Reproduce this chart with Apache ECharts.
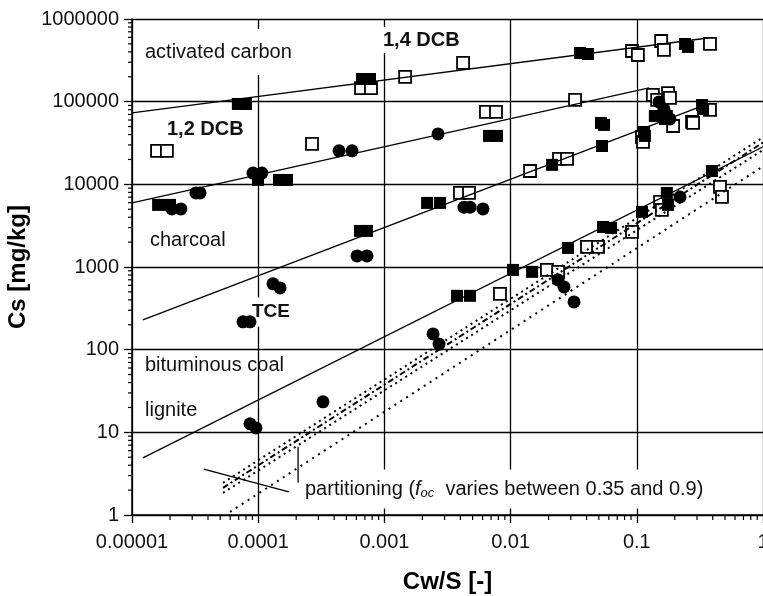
<!DOCTYPE html>
<html>
<head>
<meta charset="utf-8">
<script src="https://cdn.jsdelivr.net/npm/echarts/dist/echarts.min.js"></script>
<style>
  html, body { margin: 0; padding: 0; background: #fff; }
  #chart { width: 763px; height: 596px; }
</style>
</head>
<body>
<div id="chart"></div>
<script>
// tick labels
const xTickLabels = ['0.00001', '0.0001', '0.001', '0.01', '0.1', '1'];
const yTickLabels = ['1', '10', '100', '1000', '10000', '100000', '1000000'];
const minorSteps = [2, 3, 4, 5, 6, 7, 8, 9];

// measured points [Cw/S, Cs]
const filledSquares = [
  [6.9e-5, 93800], [8.0e-5, 93800],
  [6.65e-4, 188000], [7.69e-4, 188000],
  [6.41e-4, 2730], [7.28e-4, 2730],
  [9.96e-5, 11300],
  [1.46e-4, 11300], [1.69e-4, 11300],
  [1.61e-5, 5640], [2.0e-5, 5640],
  [2.18e-3, 5960], [2.76e-3, 5960],
  [6.74e-3, 38500], [7.8e-3, 38500],
  [0.0213, 17200],
  [0.0355, 388000], [0.041, 377000],
  [0.241, 499000], [0.255, 459000],
  [0.052, 55300], [0.055, 52300],
  [0.053, 29100],
  [0.139, 67100], [0.173, 67100], [0.167, 61800],
  [0.329, 91200], [0.335, 81600],
  [0.114, 43000], [0.116, 38500],
  [0.394, 14500],
  [0.173, 7870], [0.177, 5640],
  [0.110, 4640],
  [0.054, 3050], [0.0625, 2970],
  [0.0285, 1700],
  [0.01045, 922],
  [0.0148, 873],
  [3.76e-3, 448], [4.77e-3, 448]
];

const openSquares = [
  [1.58e-5, 25400], [1.89e-5, 25400],
  [6.53e-4, 146000], [7.83e-4, 146000],
  [2.67e-4, 30800],
  [1.46e-3, 199000],
  [4.2e-3, 294000],
  [6.38e-3, 75100], [7.66e-3, 75100],
  [0.01426, 14500],
  [0.0242, 20300], [0.028, 20300],
  [0.0324, 105000],
  [0.0916, 410000], [0.102, 367000],
  [0.156, 542000], [0.164, 422000],
  [0.380, 499000],
  [0.134, 121000], [0.145, 105000], [0.177, 127000], [0.183, 111000],
  [0.380, 79400],
  [0.194, 50800],
  [0.274, 56800], [0.279, 55300],
  [0.110, 37400], [0.112, 32600],
  [0.456, 9310], [0.473, 7050],
  [0.153, 6120], [0.158, 4900],
  [0.0916, 2660],
  [0.0403, 1750], [0.0493, 1750],
  [0.0194, 922], [0.0238, 873],
  [8.24e-3, 473],
  [3.97e-3, 7870], [4.68e-3, 7870]
];

const filledCircles = [
  [9.1e-5, 13700], [1.07e-4, 13700],
  [2.07e-5, 5040], [2.44e-5, 5040],
  [3.21e-5, 7870], [3.46e-5, 7870],
  [4.37e-4, 25400], [5.54e-4, 25400],
  [6.07e-4, 1360], [7.28e-4, 1360],
  [1.31e-4, 625], [1.49e-4, 558],
  [7.58e-5, 217], [8.61e-5, 217],
  [8.61e-5, 12.7], [9.6e-5, 11.3],
  [3.26e-4, 23.4],
  [2.66e-3, 40700],
  [4.27e-3, 5300], [4.77e-3, 5300], [6.04e-3, 5040],
  [0.150, 99200], [0.164, 81600], [0.183, 61800],
  [0.220, 7050],
  [0.0238, 698], [0.0265, 574],
  [0.0318, 378],
  [2.43e-3, 155], [2.71e-3, 117]
];

// fitted lines
const fitActivated14 = [[1e-5, 73000], [0.366, 589000]];
const fitActivated12 = [[1e-5, 5960], [0.125, 146600]];
const fitCharcoal = [[1.22e-5, 229], [0.347, 91200]];
const fitLignite = [[1.22e-5, 4.9], [1, 28500]];

// partitioning lines
const partHigh = [[5.26e-5, 2.45], [1, 37000]];
const partMid = [[5.26e-5, 2.13], [1, 32000]];
const partLowBundle = [[5.26e-5, 1.85], [1, 26000]];
const partLow = [[5.98e-5, 1.09], [1, 16500]];

// pointer strokes of the partitioning note
const pointerSlant = [[3.7e-5, 3.6], [1.75e-4, 1.9]];
const pointerBar = [[2.07e-4, 6.7], [2.07e-4, 2.45]];

const xMinor = [];
for (let d = -5; d < 0; d++) minorSteps.forEach(k => xMinor.push([k * Math.pow(10, d), 1]));
const yMinor = [];
for (let d = 0; d < 6; d++) minorSteps.forEach(k => yMinor.push([1e-5, k * Math.pow(10, d)]));

const font = "'Liberation Sans', Arial, sans-serif";

function fitLine(data, dash, width) {
  return {
    type: 'line', data: data, symbol: 'none', silent: true, z: 4,
    lineStyle: { color: '#000', width: width || 1.3, type: dash || 'solid' }
  };
}

const chart = echarts.init(document.getElementById('chart'));

const option = {
  animation: false,
  backgroundColor: '#fff',
  grid: { left: 132, top: 19, right: 0, bottom: 81, outerBoundsMode: 'none', containLabel: false },
  xAxis: {
    type: 'log', logBase: 10, min: 1e-5, max: 1,
    name: 'Cw/S [-]', nameLocation: 'middle', nameGap: 55,
    nameTextStyle: { fontFamily: font, fontSize: 24, fontWeight: 'bold', color: '#000' },
    axisLine: { lineStyle: { color: '#000', width: 1.5 } },
    axisTick: { length: 8, lineStyle: { color: '#000', width: 1.3 } },
    axisLabel: {
      fontFamily: font, fontSize: 20, color: '#111', margin: 17,
      formatter: v => xTickLabels[Math.round(Math.log10(v)) + 5]
    },
    splitLine: { show: true, lineStyle: { color: '#000', width: 1.3 } }
  },
  yAxis: {
    type: 'log', logBase: 10, min: 1, max: 1000000,
    name: 'Cs [mg/kg]', nameLocation: 'middle', nameGap: 92,
    nameTextStyle: { fontFamily: font, fontSize: 24, fontWeight: 'bold', color: '#000' },
    axisLine: { lineStyle: { color: '#000', width: 1.5 } },
    axisTick: { length: 8, lineStyle: { color: '#000', width: 1.3 } },
    axisLabel: {
      fontFamily: font, fontSize: 20, color: '#111', margin: 13,
      formatter: v => yTickLabels[Math.round(Math.log10(v))]
    },
    splitLine: { show: true, lineStyle: { color: '#000', width: 1.3 } }
  },
  graphic: [
    { type: 'text', x: 141, y: 52, z: 1, style: { text: 'activated carbon', font: '20px ' + font, fill: '#111', verticalAlign: 'middle', backgroundColor: '#fff', padding: [20, 4, 6, 4] } },
    { type: 'text', x: 381, y: 40, z: 1, style: { text: '1,4 DCB', font: 'bold 20px ' + font, fill: '#111', verticalAlign: 'middle', backgroundColor: '#fff', padding: [3, 2, 3, 2] } },
    { type: 'text', x: 167, y: 129, z: 1, style: { text: '1,2 DCB', font: 'bold 20px ' + font, fill: '#111', verticalAlign: 'middle' } },
    { type: 'text', x: 150, y: 240, z: 1, style: { text: 'charcoal', font: '20px ' + font, fill: '#111', verticalAlign: 'middle' } },
    { type: 'text', x: 250, y: 312, z: 1, style: { text: 'TCE', font: 'bold 19px ' + font, fill: '#111', verticalAlign: 'middle', backgroundColor: '#fff', padding: [5, 2, 5, 2] } },
    { type: 'text', x: 145, y: 365, z: 1, style: { text: 'bituminous coal', font: '20px ' + font, fill: '#111', verticalAlign: 'middle' } },
    { type: 'text', x: 145, y: 410, z: 1, style: { text: 'lignite', font: '20px ' + font, fill: '#111', verticalAlign: 'middle' } },
    {
      type: 'text', x: 301, y: 489, z: 1,
      style: {
        text: 'partitioning ({i|f}{sub|oc}  varies between 0.35 and 0.9)',
        font: '20px ' + font, fill: '#111', verticalAlign: 'middle',
        backgroundColor: '#fff', padding: [9, 4, 9, 4],
        rich: {
          i: { fontFamily: font, fontSize: 20, fontStyle: 'italic', fill: '#111' },
          sub: { fontFamily: font, fontSize: 13, fontStyle: 'italic', fill: '#111', verticalAlign: 'bottom', padding: [8, 0, 0, 0] }
        }
      }
    }
  ],
  series: [
    {
      type: 'scatter', data: openSquares, symbol: 'rect', symbolSize: 12, z: 3,
      itemStyle: { color: '#fff', borderColor: '#000', borderWidth: 1.8, opacity: 1 }
    },
    {
      type: 'scatter', data: filledSquares, symbol: 'rect', symbolSize: 12, z: 3,
      itemStyle: { color: '#000', opacity: 1 }
    },
    {
      type: 'scatter', data: filledCircles, symbol: 'circle', symbolSize: 13, z: 3,
      itemStyle: { color: '#000', opacity: 1 }
    },
    fitLine(fitActivated14),
    fitLine(fitActivated12),
    fitLine(fitCharcoal),
    fitLine(fitLignite),
    fitLine(partHigh, [2, 4], 2),
    fitLine(partMid, [6, 3, 2, 3], 2),
    fitLine(partLowBundle, [2, 4], 2),
    fitLine(partLow, [2, 5], 2),
    fitLine(pointerSlant, 'solid', 1.3),
    fitLine(pointerBar, 'solid', 1.3),
    {
      type: 'custom', data: yMinor, clip: false, silent: true,
      renderItem: (params, api) => {
        const p = api.coord([api.value(0), api.value(1)]);
        return { type: 'line', shape: { x1: p[0] - 4, y1: p[1], x2: p[0], y2: p[1] }, style: { stroke: '#000', lineWidth: 1.2 } };
      }
    },
    {
      type: 'custom', data: xMinor, clip: false, silent: true,
      renderItem: (params, api) => {
        const p = api.coord([api.value(0), api.value(1)]);
        return { type: 'line', shape: { x1: p[0], y1: p[1], x2: p[0], y2: p[1] + 5 }, style: { stroke: '#000', lineWidth: 1.2 } };
      }
    }
  ]
};

chart.setOption(option);
</script>
</body>
</html>
